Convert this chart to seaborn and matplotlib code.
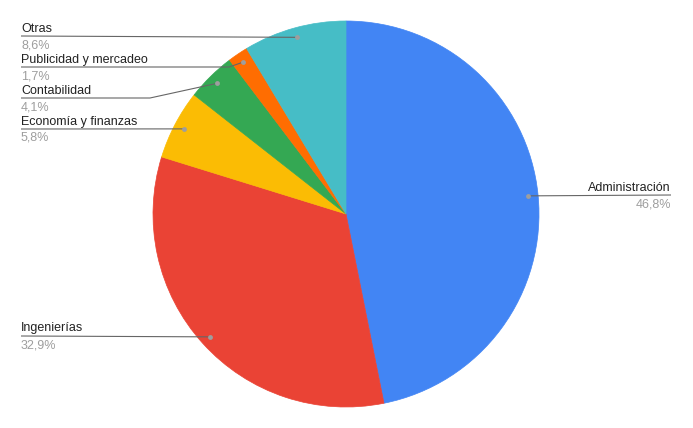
import matplotlib
matplotlib.use("Agg")
import numpy as np
import matplotlib.pyplot as plt
import seaborn as sns

categories = ["Administración", "Ingenierías", "Economía y finanzas",
              "Contabilidad", "Publicidad y mercadeo", "Otras"]
shares = [46.8, 32.9, 5.8, 4.1, 1.7, 8.6]
pct_labels = ["46,8%", "32,9%", "5,8%", "4,1%", "1,7%", "8,6%"]
colors = ["#4285F4", "#EA4335", "#FBBC04", "#34A853", "#FF6D01", "#46BDC6"]

# label layout (pixel space): y of the underline, side, elbow x (None = straight)
label_y = [195, 336, 129, 98, 67, 36]
label_side = ["right", "left", "left", "left", "left", "left"]
label_elbow = [None, None, None, 150, 229, None]

sns.set_theme(style="white")
plt.rcParams["font.family"] = ["Liberation Sans", "DejaVu Sans"]

fig = plt.figure(figsize=(6.93, 4.28), dpi=100)
ax = fig.add_axes([0, 0, 1, 1])

cx, cy, r = 346, 214, 193
wedges, _ = ax.pie(shares, colors=colors, startangle=-90, counterclock=True,
                   center=(cx, cy), radius=r, frame=True,
                   wedgeprops=dict(linewidth=0.5))
for w in wedges:
    w.set_edgecolor(w.get_facecolor())
ax.set_xlim(0, 693)
ax.set_ylim(428, 0)
ax.set_aspect("equal")
ax.axis("off")

for w, name, pct, ly, side, ex in zip(wedges, categories, pct_labels,
                                      label_y, label_side, label_elbow):
    mid = np.deg2rad((w.theta1 + w.theta2) / 2)
    dx = cx + 0.95 * r * np.cos(mid)
    dy = cy + 0.95 * r * np.sin(mid)
    tx = 671 if side == "right" else 21
    if ex is None:
        xs, ys = [tx, dx], [ly, dy]
    else:
        xs, ys = [tx, ex, dx], [ly, ly, dy]
    ax.plot(xs, ys, color="#666666", lw=0.8, solid_capstyle="butt")
    ax.plot([dx], [dy], "o", color="#9e9e9e", markersize=3.5, mec="none")
    ha = "right" if side == "right" else "left"
    ax.text(tx, ly - 4.5, name, ha=ha, va="baseline", fontsize=9, color="#222222")
    ax.text(tx, ly + 12, pct, ha=ha, va="baseline", fontsize=9, color="#9e9e9e")

fig.savefig("out.png", dpi=100, facecolor="white")
